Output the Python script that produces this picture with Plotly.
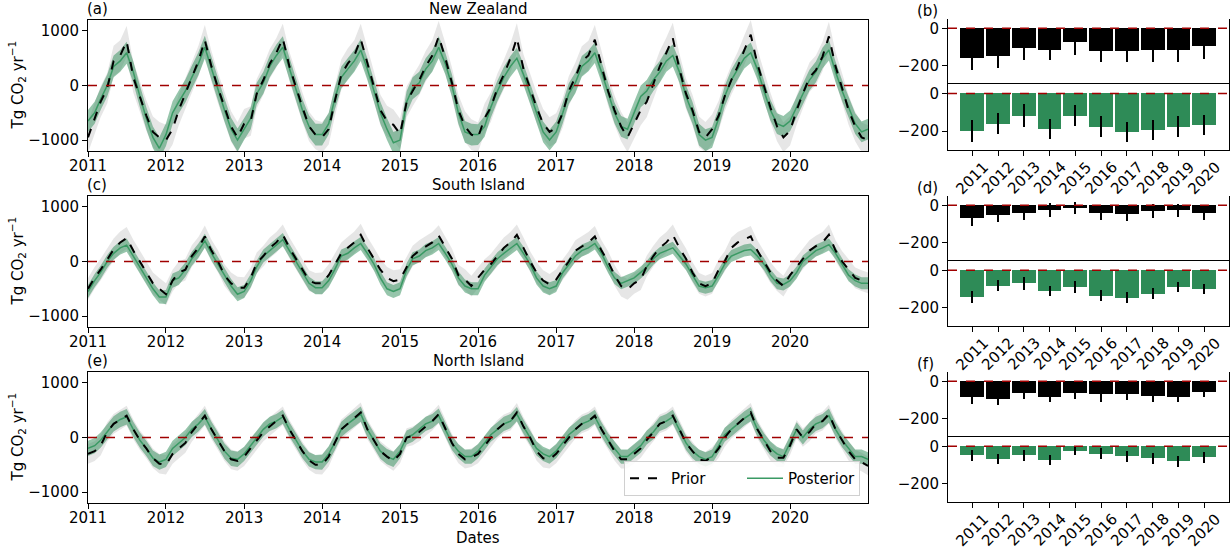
import plotly.graph_objects as go

# ---------------- data ----------------
years = list(range(2011, 2021))
dates = [f"{y}-{m:02d}-01" for y in years for m in range(1, 13)] + ["2020-12-31"]

nz_prior = [-950, -600, -300, -50, 450, 550, 810, 150, -200, -550, -850, -950,
            -1000, -800, -450, -150, 150, 450, 830, 350, -50, -400, -750, -950,
            -700, -650, -150, 100, 400, 600, 860, 350, -50, -400, -750, -900,
            -950, -800, -300, 200, 400, 550, 850, 400, -50, -450, -650, -720,
            -890, -300, -100, 100, 350, 550, 900, 500, 50, -450, -750, -900,
            -950, -600, -400, -50, 200, 500, 870, 300, -50, -400, -700, -850,
            -780, -500, -100, 150, 450, 550, 840, 350, -100, -450, -750, -950,
            -700, -450, -300, 50, 350, 600, 870, 300, -150, -450, -850, -950,
            -800, -550, -200, 100, 350, 650, 930, 400, 0, -400, -750, -950,
            -830, -450, -150, 150, 280, 530, 900, 350, -50, -450, -750, -950,
            -1000]
nz_post = [-650, -500, -250, 0, 350, 450, 600, 250, -200, -600, -950, -1150,
           -900, -500, -300, -100, 150, 400, 700, 300, -100, -450, -800, -1000,
           -800, -600, -150, 50, 350, 550, 700, 300, -100, -450, -750, -900,
           -900, -700, -250, 150, 300, 450, 650, 300, -100, -500, -800, -1050,
           -1000, -300, -50, 50, 300, 450, 700, 400, 0, -500, -850, -900,
           -900, -750, -400, -100, 150, 350, 500, 200, -150, -500, -850, -1000,
           -850, -500, -150, 50, 350, 450, 600, 250, -150, -500, -750, -800,
           -500, -200, -100, 100, 250, 450, 550, 250, -200, -500, -900, -1000,
           -950, -600, -200, 100, 300, 500, 600, 300, -100, -450, -700, -750,
           -650, -400, -150, 100, 250, 500, 650, 250, -100, -400, -700, -850,
           -800]
si_prior = [-500, -300, -150, 50, 220, 350, 430, 200, 0, -200, -400, -500,
            -600, -350, -200, -150, 100, 250, 460, 200, 0, -250, -400, -480,
            -480, -300, -25, 100, 250, 350, 490, 250, 50, -150, -350, -400,
            -400, -250, -50, 150, 250, 350, 490, 250, 50, -150, -300, -360,
            -330, -100, 100, 200, 280, 350, 475, 250, 50, -250, -330, -450,
            -300, -150, -50, 100, 250, 350, 490, 250, 0, -200, -350, -420,
            -330, -150, 0, 200, 280, 350, 460, 200, 0, -250, -450, -510,
            -400, -330, -85, 100, 250, 350, 490, 250, 50, -200, -400, -450,
            -400, -150, 0, 250, 350, 400, 460, 200, 0, -200, -350, -450,
            -250, -100, 50, 200, 280, 350, 490, 200, 0, -150, -300, -350,
            -390]
si_post = [-550, -350, -200, 0, 150, 250, 300, 100, -100, -300, -500, -650,
           -650, -350, -300, -150, 50, 200, 380, 150, -50, -250, -450, -600,
           -550, -350, -100, 100, 200, 300, 400, 200, 0, -200, -400, -480,
           -480, -350, -150, 100, 150, 250, 330, 150, -50, -300, -500, -550,
           -500, -150, 50, 100, 200, 250, 330, 150, -50, -300, -450, -500,
           -500, -250, -100, 50, 150, 250, 330, 150, -50, -300, -450, -500,
           -450, -200, -50, 100, 200, 250, 330, 150, -100, -300, -400, -350,
           -300, -200, -100, 50, 150, 200, 250, 100, -50, -250, -450, -480,
           -450, -250, -50, 100, 150, 200, 220, 100, -50, -250, -400, -420,
           -350, -200, 0, 100, 200, 250, 310, 150, -50, -250, -350, -400,
           -400]
ni_prior = [-300, -250, -150, 100, 250, 330, 400, 150, -50, -200, -380, -480,
            -500, -300, -200, -100, 100, 250, 400, 150, -50, -250, -400, -430,
            -350, -200, -50, 100, 200, 300, 400, 150, -50, -250, -420, -500,
            -500, -350, -100, 150, 250, 350, 460, 150, -50, -250, -350, -430,
            -300, 0, 30, 100, 200, 300, 430, 150, -100, -300, -400, -370,
            -300, -150, 0, 150, 250, 300, 460, 200, 0, -250, -380, -400,
            -300, -150, 0, 150, 250, 300, 400, 150, -50, -250, -400, -400,
            -300, -200, -50, 100, 250, 300, 400, 150, -100, -250, -400, -430,
            -350, -200, 0, 150, 250, 350, 460, 150, -50, -250, -370, -370,
            -150, 150, 0, 100, 250, 300, 430, 150, -50, -250, -400, -450,
            -520]
ni_post = [-200, -150, -50, 100, 250, 330, 380, 150, -50, -200, -380, -450,
           -400, -200, -100, 0, 150, 250, 380, 150, -50, -250, -380, -400,
           -300, -150, 0, 150, 250, 300, 380, 150, -50, -250, -400, -450,
           -450, -300, -100, 150, 250, 350, 430, 150, -50, -250, -350, -400,
           -250, 0, 50, 150, 250, 300, 400, 150, -100, -250, -350, -350,
           -250, -100, 50, 150, 250, 300, 430, 200, 0, -200, -300, -350,
           -250, -100, 50, 150, 250, 300, 380, 150, -50, -200, -350, -350,
           -250, -150, 0, 100, 250, 300, 380, 150, -100, -250, -350, -400,
           -350, -150, 50, 150, 250, 350, 430, 150, -50, -200, -300, -350,
           -100, 150, 0, 150, 250, 300, 400, 150, -50, -200, -350, -350,
           -400]

# yearly half-widths of the shaded bands
nz_prior_unc = [280, 280, 270, 280, 280, 270, 270, 280, 270, 270]
nz_post_unc = [200, 210, 200, 200, 200, 190, 190, 200, 190, 190]
si_prior_unc = [200, 200, 190, 200, 190, 190, 190, 190, 190, 190]
si_post_unc = [120, 130, 120, 120, 120, 120, 110, 110, 110, 110]
ni_prior_unc = [180, 180, 170, 180, 170, 170, 170, 170, 170, 170]
ni_post_unc = [140, 140, 130, 140, 130, 130, 130, 130, 130, 130]

bar_years = [str(y) for y in years]
b_prior = [-161, -150, -108, -115, -76, -120, -120, -115, -115, -97]
b_prior_err = [64, 66, 65, 58, 66, 62, 62, 64, 64, 66]
b_post = [-198, -160, -118, -187, -118, -176, -205, -193, -176, -167]
b_post_err = [59, 56, 61, 53, 55, 56, 54, 54, 54, 52]
d_prior = [-68, -52, -41, -27, -14, -41, -46, -32, -27, -41]
d_prior_err = [43, 37, 39, 37, 34, 39, 40, 37, 35, 39]
d_post = [-143, -84, -70, -111, -89, -137, -148, -127, -89, -100]
d_post_err = [31, 30, 34, 29, 31, 29, 29, 29, 26, 26]
f_prior = [-87, -93, -61, -82, -61, -71, -66, -77, -82, -55]
f_prior_err = [33, 34, 34, 32, 34, 38, 34, 37, 32, 32]
f_post = [-49, -70, -49, -75, -23, -39, -54, -65, -81, -60]
f_post_err = [31, 28, 31, 28, 26, 30, 31, 28, 29, 28]

panel_titles = ["New Zealand", "South Island", "North Island"]
panel_letters_left = ["(a)", "(c)", "(e)"]
panel_letters_right = ["(b)", "(d)", "(f)"]
y_title = "Tg CO<sub>2</sub> yr<sup>−1</sup>"
x_title = "Dates"

# ---------------- figure ----------------
W, H = 1231, 547
FONT = "DejaVu Sans"
FS = 15
GREEN = "#2e8b57"
fig = go.Figure()


def px_x(p):
    return p / W


def px_y(p):
    return 1 - p / H


left_dom = [px_x(88), px_x(868)]
left_rows = [(20, 151), (196, 327), (372, 503)]
right_dom = [px_x(948), px_x(1229)]
right_rows = [((19, 84), (84, 150)), ((196, 261), (261, 326)), ((372, 437), (437, 502))]


def yearly_band(vals, unc, sign):
    out = []
    for i, v in enumerate(vals):
        yi = min(i // 12, len(unc) - 1)
        out.append(v + sign * unc[yi])
    return out


series = [(nz_prior, nz_post, nz_prior_unc, nz_post_unc),
          (si_prior, si_post, si_prior_unc, si_post_unc),
          (ni_prior, ni_post, ni_prior_unc, ni_post_unc)]

for k, (pr, po, pru, pou) in enumerate(series):
    xa = "x" if k == 0 else f"x{k+1}"
    ya = "y" if k == 0 else f"y{k+1}"
    fig.add_trace(go.Scatter(x=dates, y=yearly_band(pr, pru, -1), mode="lines",
                             line=dict(width=0), hoverinfo="skip", showlegend=False,
                             xaxis=xa, yaxis=ya))
    fig.add_trace(go.Scatter(x=dates, y=yearly_band(pr, pru, 1), mode="lines",
                             line=dict(width=0), fill="tonexty",
                             fillcolor="rgba(205,205,205,0.5)", hoverinfo="skip",
                             showlegend=False, xaxis=xa, yaxis=ya))
    fig.add_trace(go.Scatter(x=dates, y=yearly_band(po, pou, -1), mode="lines",
                             line=dict(width=0), hoverinfo="skip", showlegend=False,
                             xaxis=xa, yaxis=ya))
    fig.add_trace(go.Scatter(x=dates, y=yearly_band(po, pou, 1), mode="lines",
                             line=dict(width=0), fill="tonexty",
                             fillcolor="rgba(46,139,87,0.5)", hoverinfo="skip",
                             showlegend=False, xaxis=xa, yaxis=ya))
    fig.add_trace(go.Scatter(x=dates, y=po, mode="lines", name="Posterior",
                             line=dict(color="#3a9a64", width=1.5),
                             showlegend=(k == 2), legendrank=2, xaxis=xa, yaxis=ya))
    fig.add_trace(go.Scatter(x=dates, y=pr, mode="lines", name="Prior",
                             line=dict(color="black", width=2, dash="dash"),
                             showlegend=(k == 2), legendrank=1, xaxis=xa, yaxis=ya))

bar_sets = [(b_prior, b_prior_err, b_post, b_post_err),
            (d_prior, d_prior_err, d_post, d_post_err),
            (f_prior, f_prior_err, f_post, f_post_err)]

for k, (pv, pe, qv, qe) in enumerate(bar_sets):
    ia = 4 + 2 * k
    ib = 5 + 2 * k
    fig.add_trace(go.Bar(x=years, y=pv, width=0.92, marker=dict(color="black", line=dict(width=0)),
                         error_y=dict(type="data", array=pe, color="black", thickness=2, width=0),
                         showlegend=False, xaxis=f"x{ia}", yaxis=f"y{ia}"))
    fig.add_trace(go.Bar(x=years, y=qv, width=0.92, marker=dict(color=GREEN, line=dict(width=0)),
                         error_y=dict(type="data", array=qe, color="black", thickness=2, width=0),
                         showlegend=False, xaxis=f"x{ib}", yaxis=f"y{ib}"))

axis_common = dict(showline=True, linecolor="black", linewidth=1, mirror=True,
                   ticks="outside", ticklen=5, tickcolor="black", showgrid=False,
                   zeroline=False, automargin=False,
                   tickfont=dict(size=FS, color="black", family=FONT))

layout = dict(width=W, height=H, margin=dict(l=0, r=0, t=0, b=0, pad=0),
              plot_bgcolor="white", paper_bgcolor="white",
              font=dict(family=FONT, size=FS, color="black"), bargap=0,
              legend=dict(orientation="h", x=px_x(860), xanchor="right",
                          y=px_y(496), yanchor="bottom",
                          bgcolor="rgba(255,255,255,0.85)", bordercolor="#d0d0d0",
                          borderwidth=1, font=dict(size=FS), itemwidth=36,
                          entrywidth=66, traceorder="normal"))

for k in range(3):
    xn = "xaxis" if k == 0 else f"xaxis{k+1}"
    yn = "yaxis" if k == 0 else f"yaxis{k+1}"
    top, bot = left_rows[k]
    layout[xn] = dict(axis_common, domain=left_dom, anchor="y" if k == 0 else f"y{k+1}",
                      type="date", range=["2011-01-01", "2020-12-31"],
                      dtick="M12", tick0="2011-01-01", tickformat="%Y",
                      ticklabelstandoff=-4)
    layout[yn] = dict(axis_common, domain=[px_y(bot), px_y(top)],
                      anchor="x" if k == 0 else f"x{k+1}",
                      range=[-1200, 1200], tickvals=[-1000, 0, 1000])
    (ut, ub), (lt, lb) = right_rows[k]
    ia = 4 + 2 * k
    ib = 5 + 2 * k
    layout[f"xaxis{ia}"] = dict(axis_common, domain=right_dom, anchor=f"y{ia}",
                                range=[2010.06, 2020.96], showticklabels=False,
                                ticks="", showline=False)
    layout[f"yaxis{ia}"] = dict(axis_common, domain=[px_y(ub), px_y(ut)], anchor=f"x{ia}",
                                range=[-300, 50], tickvals=[-200, 0])
    layout[f"xaxis{ib}"] = dict(axis_common, domain=right_dom, anchor=f"y{ib}",
                                range=[2010.06, 2020.96], tickvals=years,
                                showticklabels=False)
    layout[f"yaxis{ib}"] = dict(axis_common, domain=[px_y(lb), px_y(lt)], anchor=f"x{ib}",
                                range=[-300, 50], tickvals=[-200, 0])

fig.update_layout(**layout)

shapes = []
for k in range(3):
    xa = "x" if k == 0 else f"x{k+1}"
    ya = "y" if k == 0 else f"y{k+1}"
    shapes.append(dict(type="line", xref=f"{xa} domain", yref=ya, x0=0, x1=1, y0=0, y1=0,
                       line=dict(color="#a00000", width=1.5, dash="dash")))
for i in range(4, 10):
    shapes.append(dict(type="line", xref=f"x{i} domain", yref=f"y{i}", x0=0, x1=1, y0=0, y1=0,
                       line=dict(color="#a00000", width=1.5, dash="dash")))
fig.update_layout(shapes=shapes)

ann = []
for k in range(3):
    top, bot = left_rows[k]
    ann.append(dict(text=panel_titles[k], x=px_x(478), y=px_y(top - 11), xref="paper",
                    yref="paper", xanchor="center", yanchor="middle", showarrow=False,
                    font=dict(size=FS)))
    ann.append(dict(text=panel_letters_left[k], x=px_x(85), y=px_y(top - 11), xref="paper",
                    yref="paper", xanchor="left", yanchor="middle", showarrow=False,
                    font=dict(size=FS)))
    ann.append(dict(text=y_title, x=px_x(17), y=px_y((top + bot) / 2), xref="paper",
                    yref="paper", xanchor="center", yanchor="middle", showarrow=False,
                    textangle=-90, font=dict(size=FS)))
    rt = right_rows[k][0][0]
    ann.append(dict(text=panel_letters_right[k], x=px_x(915), y=px_y(rt - 8), xref="paper",
                    yref="paper", xanchor="left", yanchor="middle", showarrow=False,
                    font=dict(size=FS)))
    # rotated year labels centred under each bar tick
    lb = right_rows[k][1][1]
    for yr, lab in zip(years, bar_years):
        ann.append(dict(text=lab, x=yr, xref=f"x{5 + 2 * k}", y=px_y(lb + 28), yref="paper",
                        xanchor="center", yanchor="middle", textangle=-45, showarrow=False,
                        font=dict(size=FS)))
ann.append(dict(text=x_title, x=px_x(478), y=px_y(538), xref="paper", yref="paper",
                xanchor="center", yanchor="middle", showarrow=False, font=dict(size=FS)))
fig.update_layout(annotations=ann)

fig.write_html("out.html", config={"displayModeBar": False},
               post_script="document.body.style.margin='0px';document.body.style.padding='0px';")
